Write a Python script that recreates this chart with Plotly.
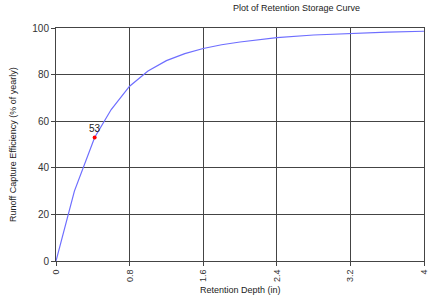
import plotly.graph_objects as go

depth = [0, 0.2, 0.42, 0.6, 0.8, 1.0, 1.2, 1.4, 1.6, 1.8, 2.0, 2.4, 2.8, 3.2, 3.6, 4.0]
efficiency = [0, 30, 53, 65, 75, 81.5, 86, 89, 91.2, 92.8, 94, 95.9, 97, 97.7, 98.2, 98.6]
marker_x = [0.42]
marker_y = [53]
marker_label = ["53"]
x_ticks = [0, 0.8, 1.6, 2.4, 3.2, 4]
y_ticks = [0, 20, 40, 60, 80, 100]

fig = go.Figure()
fig.add_trace(go.Scatter(x=depth, y=efficiency, mode="lines",
                         line=dict(color="rgb(110,110,255)", width=1.2),
                         hoverinfo="skip", showlegend=False))
fig.add_trace(go.Scatter(x=marker_x, y=marker_y, mode="markers+text",
                         marker=dict(color="red", size=4),
                         text=marker_label, textposition="top center",
                         textfont=dict(size=10, color="#222"),
                         showlegend=False))

axis_common = dict(showgrid=True, gridcolor="#444", gridwidth=1,
                   showline=True, linecolor="#444", linewidth=1, mirror=True,
                   ticks="outside", ticklen=4, tickcolor="#444",
                   zeroline=False)
fig.update_xaxes(range=[0, 4], tickvals=x_ticks, ticktext=[str(v) for v in x_ticks],
                 tickangle=-90, tickfont=dict(size=9, color="#333", family="Liberation Sans"),
                 **axis_common)
fig.update_yaxes(range=[0, 100], tickvals=y_ticks,
                 tickfont=dict(size=10, color="#333", family="Liberation Sans"),
                 **axis_common)

fig.add_annotation(text="Plot of Retention Storage Curve", xref="paper", yref="paper",
                   x=(296 - 56) / 368, y=1 + 20 / 233, showarrow=False,
                   xanchor="center", yanchor="middle",
                   font=dict(size=9, color="#222", family="Liberation Sans"))
fig.add_annotation(text="Retention Depth (in)", xref="paper", yref="paper",
                   x=(240 - 56) / 368, y=-(290 - 261) / 233, showarrow=False,
                   xanchor="center", yanchor="middle",
                   font=dict(size=9, color="#222", family="Liberation Sans"))
fig.add_annotation(text="Runoff Capture Efficiency (% of yearly)", xref="paper", yref="paper",
                   x=-(56 - 13) / 368, y=(261 - 145) / 233, showarrow=False, textangle=-90,
                   xanchor="center", yanchor="middle",
                   font=dict(size=9, color="#222", family="Liberation Sans"))

fig.update_layout(width=442, height=298,
                  margin=dict(l=56, r=18, t=28, b=37),
                  paper_bgcolor="white", plot_bgcolor="white",
                  font=dict(family="Liberation Sans"))

fig.write_html("out.html")
